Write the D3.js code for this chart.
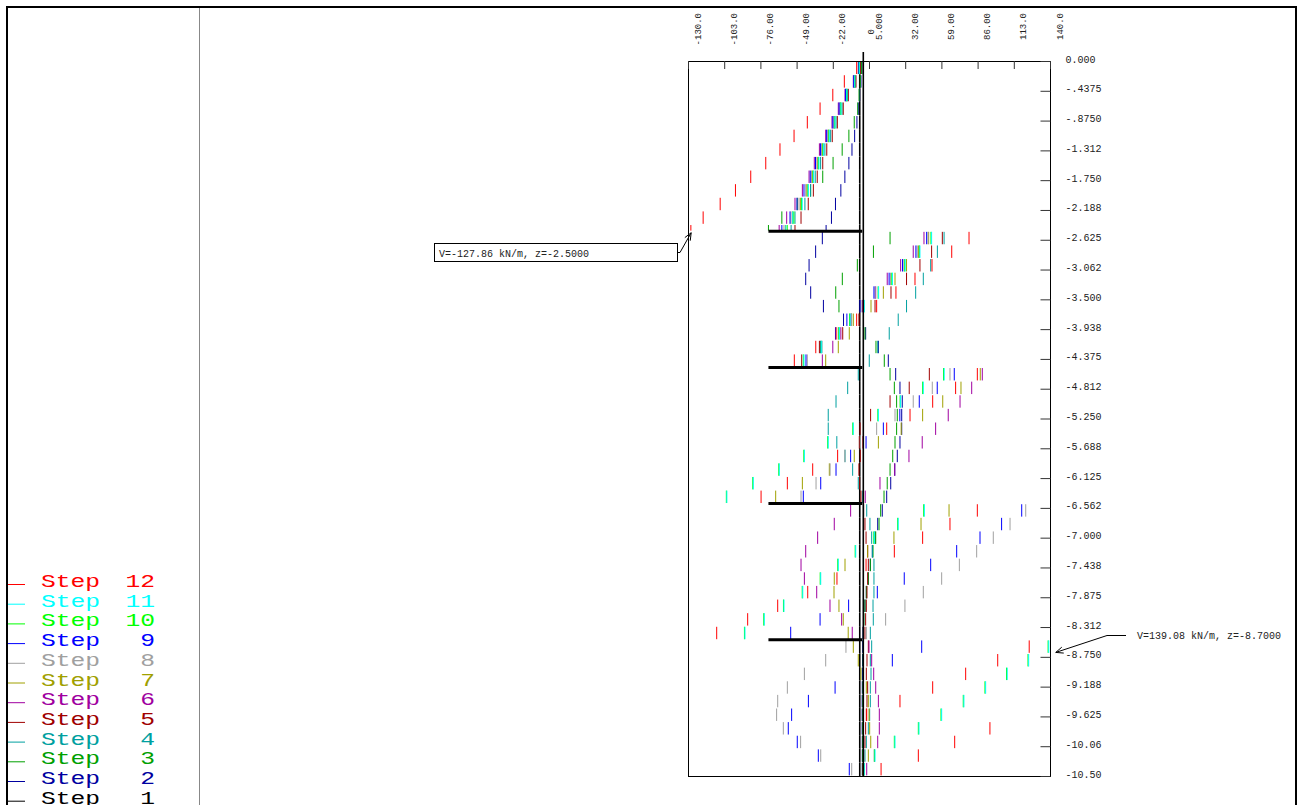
<!DOCTYPE html>
<html><head><meta charset="utf-8">
<script src="https://cdn.jsdelivr.net/npm/d3@7"></script>
<style>body{margin:0;background:#fff;overflow:hidden}svg{display:block}</style>
</head><body>
<svg id="c" width="1297" height="805"></svg>
<script>
// ---------------- DATA ----------------
// element boundaries (depth z, m)
const zBounds = [0,-0.2,-0.4,-0.6,-0.8,-1.0,-1.2,-1.4,-1.6,-1.8,-2.0,-2.2,-2.4,-2.5,
  -2.7,-2.9,-3.1,-3.3,-3.5,-3.7,-3.9,-4.1,-4.3,-4.5,
  -4.7,-4.9,-5.1,-5.3,-5.5,-5.7,-5.9,-6.1,-6.3,-6.5,
  -6.7,-6.9,-7.1,-7.3,-7.5,-7.7,-7.9,-8.1,-8.3,-8.5,
  -8.7,-8.9,-9.1,-9.3,-9.5,-9.7,-9.9,-10.1,-10.3,-10.5];

// shear force V (kN/m) per element, per construction step
const step1 = [-1.9,-1.9,-1.9,-1.9,-1.9,-1.9,-1.9,-1.9,-1.9,-1.9,-1.9,-1.9,-1.9,
  -1.9,-1.9,-1.9,-1.9,-1.9,-1.9,-1.9,-1.9,-1.9,-1.9,
  -1.9,-1.9,-1.9,-1.9,-1.9,-1.9,-1.9,-1.9,-1.9,-1.9,
  -1.9,-1.9,-1.9,-1.9,-1.9,-1.9,-1.9,-1.9,-1.9,-1.9,
  -1.9,-1.9,-1.9,-1.9,-1.9,-1.9,-1.9,-1.9,-1.9,-1.9];
const step2 = [-0.3,-1.0,-2.0,-3.0,-4.0,-5.7,-7.7,-10.0,-13.0,-16.0,-20.0,-23.0,-27.0,
  -29.8,-34.8,-39.7,-42.2,-38.5,-29.0,-14.0,2.5,12.0,19.4,
  24.9,28.1,29.8,29.4,29.4,28.1,26.1,24.2,21.2,18.2,
  14.9,11.5,9.5,7.5,6.0,4.5,3.0,2.0,1.0,0.5,
  0.3,0.2,0.1,0.0,-0.1,-0.1,-0.1,0.0,0.0,0.0];
const step3 = [-0.5,-1.5,-2.4,-3.4,-6.0,-10.0,-15.0,-21.8,-29.5,-38.5,-48.5,-60.0,-70.0,
  20.7,8.3,-3.7,-14.9,-19.8,-17.4,-8.0,2.0,10.2,16.4,
  20.7,23.9,25.6,26.1,25.6,24.4,22.7,20.7,18.6,16.2,
  13.7,12.5,10.0,8.0,6.0,4.5,3.0,2.0,1.2,0.8,
  0.8,0.6,0.5,0.5,0.4,0.4,0.3,0.3,0.2,0.1];
const step4 = [-1.9,-5.2,-11.0,-15.1,-19.6,-23.6,-27.9,-31.1,-35.1,-38.6,-42.8,-50.2,-53.1,
  61.0,56.0,51.0,45.5,39.8,33.0,26.8,20.1,11.5,5.2,
  -3.0,-10.9,-19.6,-25.4,-25.4,-19.0,-12.9,-7.2,-3.0,0.3,
  3.3,5.7,7.0,7.5,8.7,8.7,8.7,8.0,8.2,6.0,
  7.0,6.0,6.5,6.0,6.0,5.5,4.5,3.0,2.0,0.8];
const step5 = [-1.5,-4.7,-10.4,-14.2,-18.6,-22.4,-26.5,-29.5,-33.6,-36.5,-40.3,-45.7,-50.2,
  59.7,51.7,43.0,33.0,21.4,9.5,-2.5,-14.6,-32.0,-45.2,
  50.0,35.0,20.7,6.2,-1.7,-2.2,-1.5,-2.5,-2.0,-1.0,
  1.0,2.0,2.8,4.0,4.5,4.0,3.5,3.0,2.5,2.0,
  4.5,3.5,3.0,4.0,3.5,3.0,2.5,2.0,1.0,0.5];
const step6 = [-3.0,-6.7,-12.9,-17.9,-22.6,-27.3,-32.0,-35.8,-39.7,-44.7,-50.2,-56.4,-62.0,
  46.0,38.0,28.6,18.6,10.0,0.0,-9.0,-16.0,-22.0,-29.8,
  89.5,81.6,72.9,64.1,54.7,44.7,34.8,24.2,13.2,2.2,
  -8.7,-20.9,-33.3,-42.2,-45.7,-43.2,-34.0,-24.1,-15.4,-7.5,
  5.0,7.0,8.5,10.0,12.0,12.7,12.7,11.5,9.0,3.3];
const step7 = [-2.4,-5.9,-11.9,-16.4,-21.0,-25.3,-29.8,-33.3,-37.3,-41.4,-46.2,-52.1,-57.2,
  49.5,42.0,33.0,24.4,15.7,6.5,-6.7,-9.7,-17.9,-27.3,
  88.0,73.6,60.0,45.0,29.0,12.0,-6.0,-24.6,-44.7,-64.6,
  64.7,43.8,23.6,4.0,-12.9,-20.9,-21.1,-17.4,-14.2,-10.5,
  -6.7,-3.0,-1.0,3.0,4.5,5.0,5.5,6.3,4.5,1.5];
const step8 = [-2.6,-6.1,-12.1,-16.8,-21.4,-25.8,-30.4,-33.9,-37.9,-42.2,-47.2,-53.2,-58.4,
  49.0,41.0,31.0,21.0,9.5,-1.0,-8.0,-18.0,-30.0,-41.0,
  65.4,52.2,38.0,24.4,10.7,-1.5,-13.0,-24.0,-34.5,-45.7,
  121.9,110.2,97.7,85.3,72.4,59.2,45.5,31.8,17.4,3.0,
  -12.2,-27.3,-43.2,-55.9,-63.1,-63.9,-58.9,-46.0,-31.0,-7.9];
const step9 = [-2.8,-6.4,-12.5,-17.3,-22.0,-26.6,-31.2,-34.9,-38.8,-43.5,-48.7,-53.9,-60.0,
  48.0,40.0,30.0,20.0,8.7,-1.7,-11.5,-20.0,-31.0,-42.0,
  68.6,55.9,42.5,28.0,15.7,2.8,-8.7,-19.6,-31.0,-44.0,
  118.9,103.9,87.8,70.4,51.0,31.3,11.2,-10.2,-31.5,-53.4,
  44.3,22.4,0.5,-20.3,-40.2,-52.7,-55.2,-48.5,-32.8,-9.7];
const step10 = [-2.3,-5.7,-11.7,-16.1,-20.6,-24.9,-29.3,-32.7,-36.7,-40.6,-45.3,-51.1,-56.0,
  51.2,42.6,31.6,22.0,11.8,1.0,-9.5,-17.5,-30.8,-44.0,
  60.6,45.0,28.2,11.6,-7.1,-25.8,-43.6,-62.3,-81.7,-101.4,
  45.8,26.4,8.6,-5.3,-18.3,-31.4,-44.8,-58.8,-73.5,-87.9,
  138.6,123.6,107.6,91.5,75.3,58.7,41.8,23.9,9.0,1.0];
const step11 = [-2.2,-5.6,-11.5,-15.9,-20.4,-24.6,-29.0,-32.3,-36.3,-40.2,-44.8,-51.9,-57.0,
  51.7,43.0,32.0,22.5,12.2,1.5,-9.0,-17.0,-30.3,-43.5,
  61.1,45.5,28.6,12.0,-6.7,-25.4,-43.2,-61.9,-81.3,-101.0,
  46.3,26.8,9.0,-4.9,-17.9,-31.0,-44.4,-58.4,-73.1,-87.5,
  139.08,124.1,108.1,92.0,75.8,59.2,42.3,24.4,9.5,1.5];
const step12 = [-4.2,-13.4,-22.0,-31.5,-41.0,-50.9,-61.4,-72.0,-83.2,-94.6,-106.0,-118.7,-127.86,
  79.6,66.7,52.0,39.3,25.1,10.7,-4.2,-19.5,-34.7,-50.7,
  85.8,69.6,52.5,35.6,18.2,0.5,-18.4,-37.0,-55.9,-75.5,
  85.8,65.4,45.0,23.9,2.8,-18.9,-40.7,-63.1,-85.5,-108.6,
  124.5,101.0,77.1,52.5,28.1,3.3,95.2,68.9,41.8,14.0];

const stepNames = [1,2,3,4,5,6,7,8,9,10,11,12];
const stepColors = ["#000000","#0000a0","#00a000","#00a0a0","#a00000","#a000a0",
                    "#a0a000","#a0a0a0","#0000ff","#00ff00","#00ffff","#ff0000"];

const anchorDepths = [-2.5,-4.5,-6.5,-8.5];
const anchorReach = -70;

const xTicks = [-130,-103,-76,-49,-22,5,32,59,86,113,140];
const xTickLabels = ["-130.0","-103.0","-76.00","-49.00","-22.00","5.000","32.00","59.00","86.00","113.0","140.0"];
const zTicks = [0,-0.4375,-0.875,-1.3125,-1.75,-2.1875,-2.625,-3.0625,-3.5,-3.9375,-4.375,-4.8125,
  -5.25,-5.6875,-6.125,-6.5625,-7.0,-7.4375,-7.875,-8.3125,-8.75,-9.1875,-9.625,-10.0625,-10.5];
const zTickLabels = ["0.000","-.4375","-.8750","-1.312","-1.750","-2.188","-2.625","-3.062","-3.500",
  "-3.938","-4.375","-4.812","-5.250","-5.688","-6.125","-6.562","-7.000","-7.438","-7.875","-8.312",
  "-8.750","-9.188","-9.625","-10.06","-10.50"];

const minNote = {v:-127.86, z:-2.5};
const maxNote = {v:139.08, z:-8.7};

// ---------------- DRAW ----------------
const FONT = "'Liberation Mono','DejaVu Sans Mono',monospace";
const svg = d3.select("#c");
const x = d3.scaleLinear().domain([-130,140]).range([688,1050]);
const y = d3.scaleLinear().domain([0,-10.5]).range([61,776]);
const steps = [step1,step2,step3,step4,step5,step6,step7,step8,step9,step10,step11,step12];

// frame
svg.append("line").attr("x1",6).attr("x2",1297).attr("y1",7).attr("y2",7).attr("stroke","#000").attr("stroke-width",2);
svg.append("line").attr("x1",7).attr("x2",7).attr("y1",6).attr("y2",805).attr("stroke","#000").attr("stroke-width",2);
svg.append("line").attr("x1",1296).attr("x2",1296).attr("y1",6).attr("y2",805).attr("stroke","#000").attr("stroke-width",2);
svg.append("line").attr("x1",199.5).attr("x2",199.5).attr("y1",8).attr("y2",805).attr("stroke","#888").attr("stroke-width",1);

// shear ticks
steps.forEach((vals,si)=>{
  const gap = si === 0 ? 0 : 0.6;
  svg.append("g").selectAll("line").data(vals).join("line")
    .attr("x1",d=>x(d)).attr("x2",d=>x(d))
    .attr("y1",(d,i)=>y(zBounds[i])+gap)
    .attr("y2",(d,i)=>y(zBounds[i+1])-gap)
    .attr("stroke",stepColors[si]).attr("stroke-width",si === 0 ? 1.6 : 1);
});

// zero line
svg.append("line").attr("x1",x(0)+1).attr("x2",x(0)+1).attr("y1",52).attr("y2",y(-10.5))
  .attr("stroke","#000").attr("stroke-width",1.6);

// plot box
svg.append("rect").attr("x",x(-130)+0.5).attr("y",y(0)+0.5)
  .attr("width",x(140)-x(-130)).attr("height",y(-10.5)-y(0))
  .attr("fill","none").attr("stroke","#000").attr("stroke-width",1);

// top axis
const xAxis = d3.axisTop(x).tickValues(xTicks).tickFormat((d,i)=>xTickLabels[i])
  .tickSizeInner(-8).tickSizeOuter(0).tickPadding(0);
const gx = svg.append("g").attr("transform",`translate(0,${y(0)})`).call(xAxis);
gx.select(".domain").remove();
gx.selectAll(".tick line").attr("stroke","#333");
gx.selectAll(".tick text").attr("transform","rotate(-90)").attr("x",y(0)-13).attr("y",12)
  .attr("dy",null).attr("text-anchor","end").attr("font-family",FONT).attr("font-size",9).attr("fill","#222");
// zero label
svg.append("text").attr("transform",`translate(${x(0)+11.5},29) rotate(-90)`)
  .attr("text-anchor","end").attr("font-family",FONT).attr("font-size",9).attr("fill","#222").text("0");

// right axis
const zAxis = d3.axisRight(y).tickValues(zTicks).tickFormat((d,i)=>zTickLabels[i])
  .tickSizeInner(-10).tickSizeOuter(0).tickPadding(15);
const gz = svg.append("g").attr("transform",`translate(${x(140)+0.5},0)`).call(zAxis);
gz.select(".domain").remove();
gz.selectAll(".tick line").attr("stroke","#333");
gz.selectAll(".tick text").attr("dy","0.1em").attr("font-family",FONT).attr("font-size",10).attr("fill","#222");

// anchor levels
svg.append("g").selectAll("line").data(anchorDepths).join("line")
  .attr("x1",x(anchorReach)).attr("x2",x(0)).attr("y1",d=>y(d)).attr("y2",d=>y(d))
  .attr("stroke","#000").attr("stroke-width",3);

// arrows
function arrow(tail, tip){
  const dx = tail[0]-tip[0], dy = tail[1]-tip[1];
  const L = Math.hypot(dx,dy), ux = dx/L, uy = dy/L, a = 0.4, h = 8;
  const p1 = [tip[0]+h*(ux*Math.cos(a)-uy*Math.sin(a)), tip[1]+h*(uy*Math.cos(a)+ux*Math.sin(a))];
  const p2 = [tip[0]+h*(ux*Math.cos(-a)-uy*Math.sin(-a)), tip[1]+h*(uy*Math.cos(-a)+ux*Math.sin(-a))];
  svg.append("path").attr("d",`M${tail[0]},${tail[1]}L${tip[0]},${tip[1]}M${p1[0]},${p1[1]}L${tip[0]},${tip[1]}L${p2[0]},${p2[1]}`)
    .attr("fill","none").attr("stroke","#000").attr("stroke-width",1);
}
// min annotation
svg.append("rect").attr("x",434.5).attr("y",243.5).attr("width",243).attr("height",18)
  .attr("fill","#fff").attr("stroke","#000").attr("stroke-width",1);
svg.append("text").attr("x",439).attr("y",257).attr("font-family",FONT).attr("font-size",10).attr("fill","#222")
  .text(`V=${minNote.v.toFixed(2)} kN/m, z=${minNote.z.toFixed(4)}`);
svg.append("line").attr("x1",677.5).attr("x2",680).attr("y1",252.5).attr("y2",252.5).attr("stroke","#000");
arrow([680,252.5],[x(minNote.v)+0.3,y(minNote.z)+1.5]);
// max annotation
svg.append("text").attr("x",1137).attr("y",639).attr("font-family",FONT).attr("font-size",10).attr("fill","#222")
  .text(`V=${maxNote.v.toFixed(2)} kN/m, z=${maxNote.z.toFixed(4)}`);
svg.append("line").attr("x1",1107).attr("x2",1126).attr("y1",635.5).attr("y2",635.5).attr("stroke","#000");
arrow([1107,635.5],[x(maxNote.v)+7,y(maxNote.z)-1]);

// legend (bottom row is clipped by the window edge, as in the original)
const leg = svg.append("g");
stepNames.slice().reverse().forEach((s,k)=>{
  const si = s-1, yb = 587 + k*19.7, col = stepColors[si];
  leg.append("line").attr("x1",8).attr("x2",25).attr("y1",yb-2.5).attr("y2",yb-2.5).attr("stroke",col).attr("stroke-width",1);
  leg.append("text").attr("transform",`translate(41,${yb}) scale(1.37,1)`).attr("font-family",FONT)
    .attr("font-size",18).attr("fill",col).text("Step");
  leg.append("text").attr("transform",`translate(155,${yb}) scale(1.37,1)`).attr("font-family",FONT)
    .attr("font-size",18).attr("fill",col).attr("text-anchor","end").text(String(s));
});
</script>
</body></html>
